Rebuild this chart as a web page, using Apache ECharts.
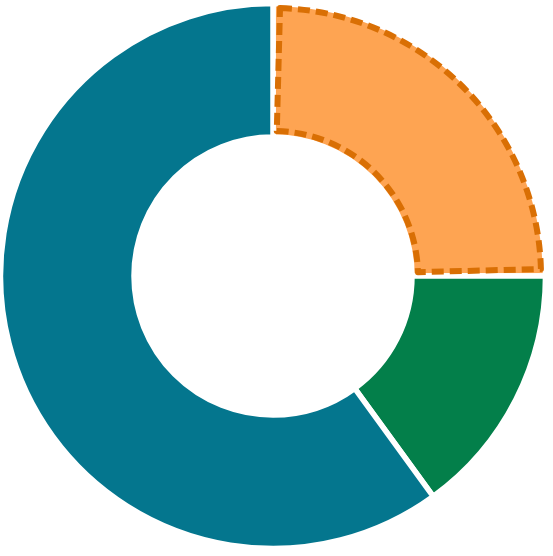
<!DOCTYPE html>
<html><head><meta charset="utf-8">
<script src="https://cdn.jsdelivr.net/npm/echarts@6/dist/echarts.min.js"></script>
<style>html,body{margin:0;padding:0;background:#fff}#c{width:553px;height:556px}</style>
</head><body><div id="c"></div>
<script>
const categories = ['A', 'B', 'C'];
const values = [25, 15, 60];
const colors = ['#fea452', '#037f4a', '#04768e'];
const highlightIndex = 0;
const chart = echarts.init(document.getElementById('c'));
const baseData = categories.map((n, i) => ({
  name: n, value: values[i],
  itemStyle: { color: colors[i], borderColor: '#ffffff', borderWidth: 5.5 }
}));
const overlayData = categories.map((n, i) => ({
  name: n, value: values[i],
  itemStyle: i === highlightIndex
    ? { color: 'rgba(0,0,0,0)', borderColor: '#d96f04', borderWidth: 6, borderType: [12, 6] }
    : { color: 'rgba(0,0,0,0)', borderWidth: 0 }
}));
const common = {
  type: 'pie', center: [273, 276], startAngle: 90, clockwise: true,
  label: { show: false }, labelLine: { show: false }, silent: true
};
chart.setOption({
  animation: false,
  series: [
    Object.assign({}, common, { radius: [139, 272.5], data: baseData }),
    Object.assign({}, common, { radius: [145, 268], padAngle: 3, data: overlayData, z: 3 })
  ]
});
</script></body></html>
